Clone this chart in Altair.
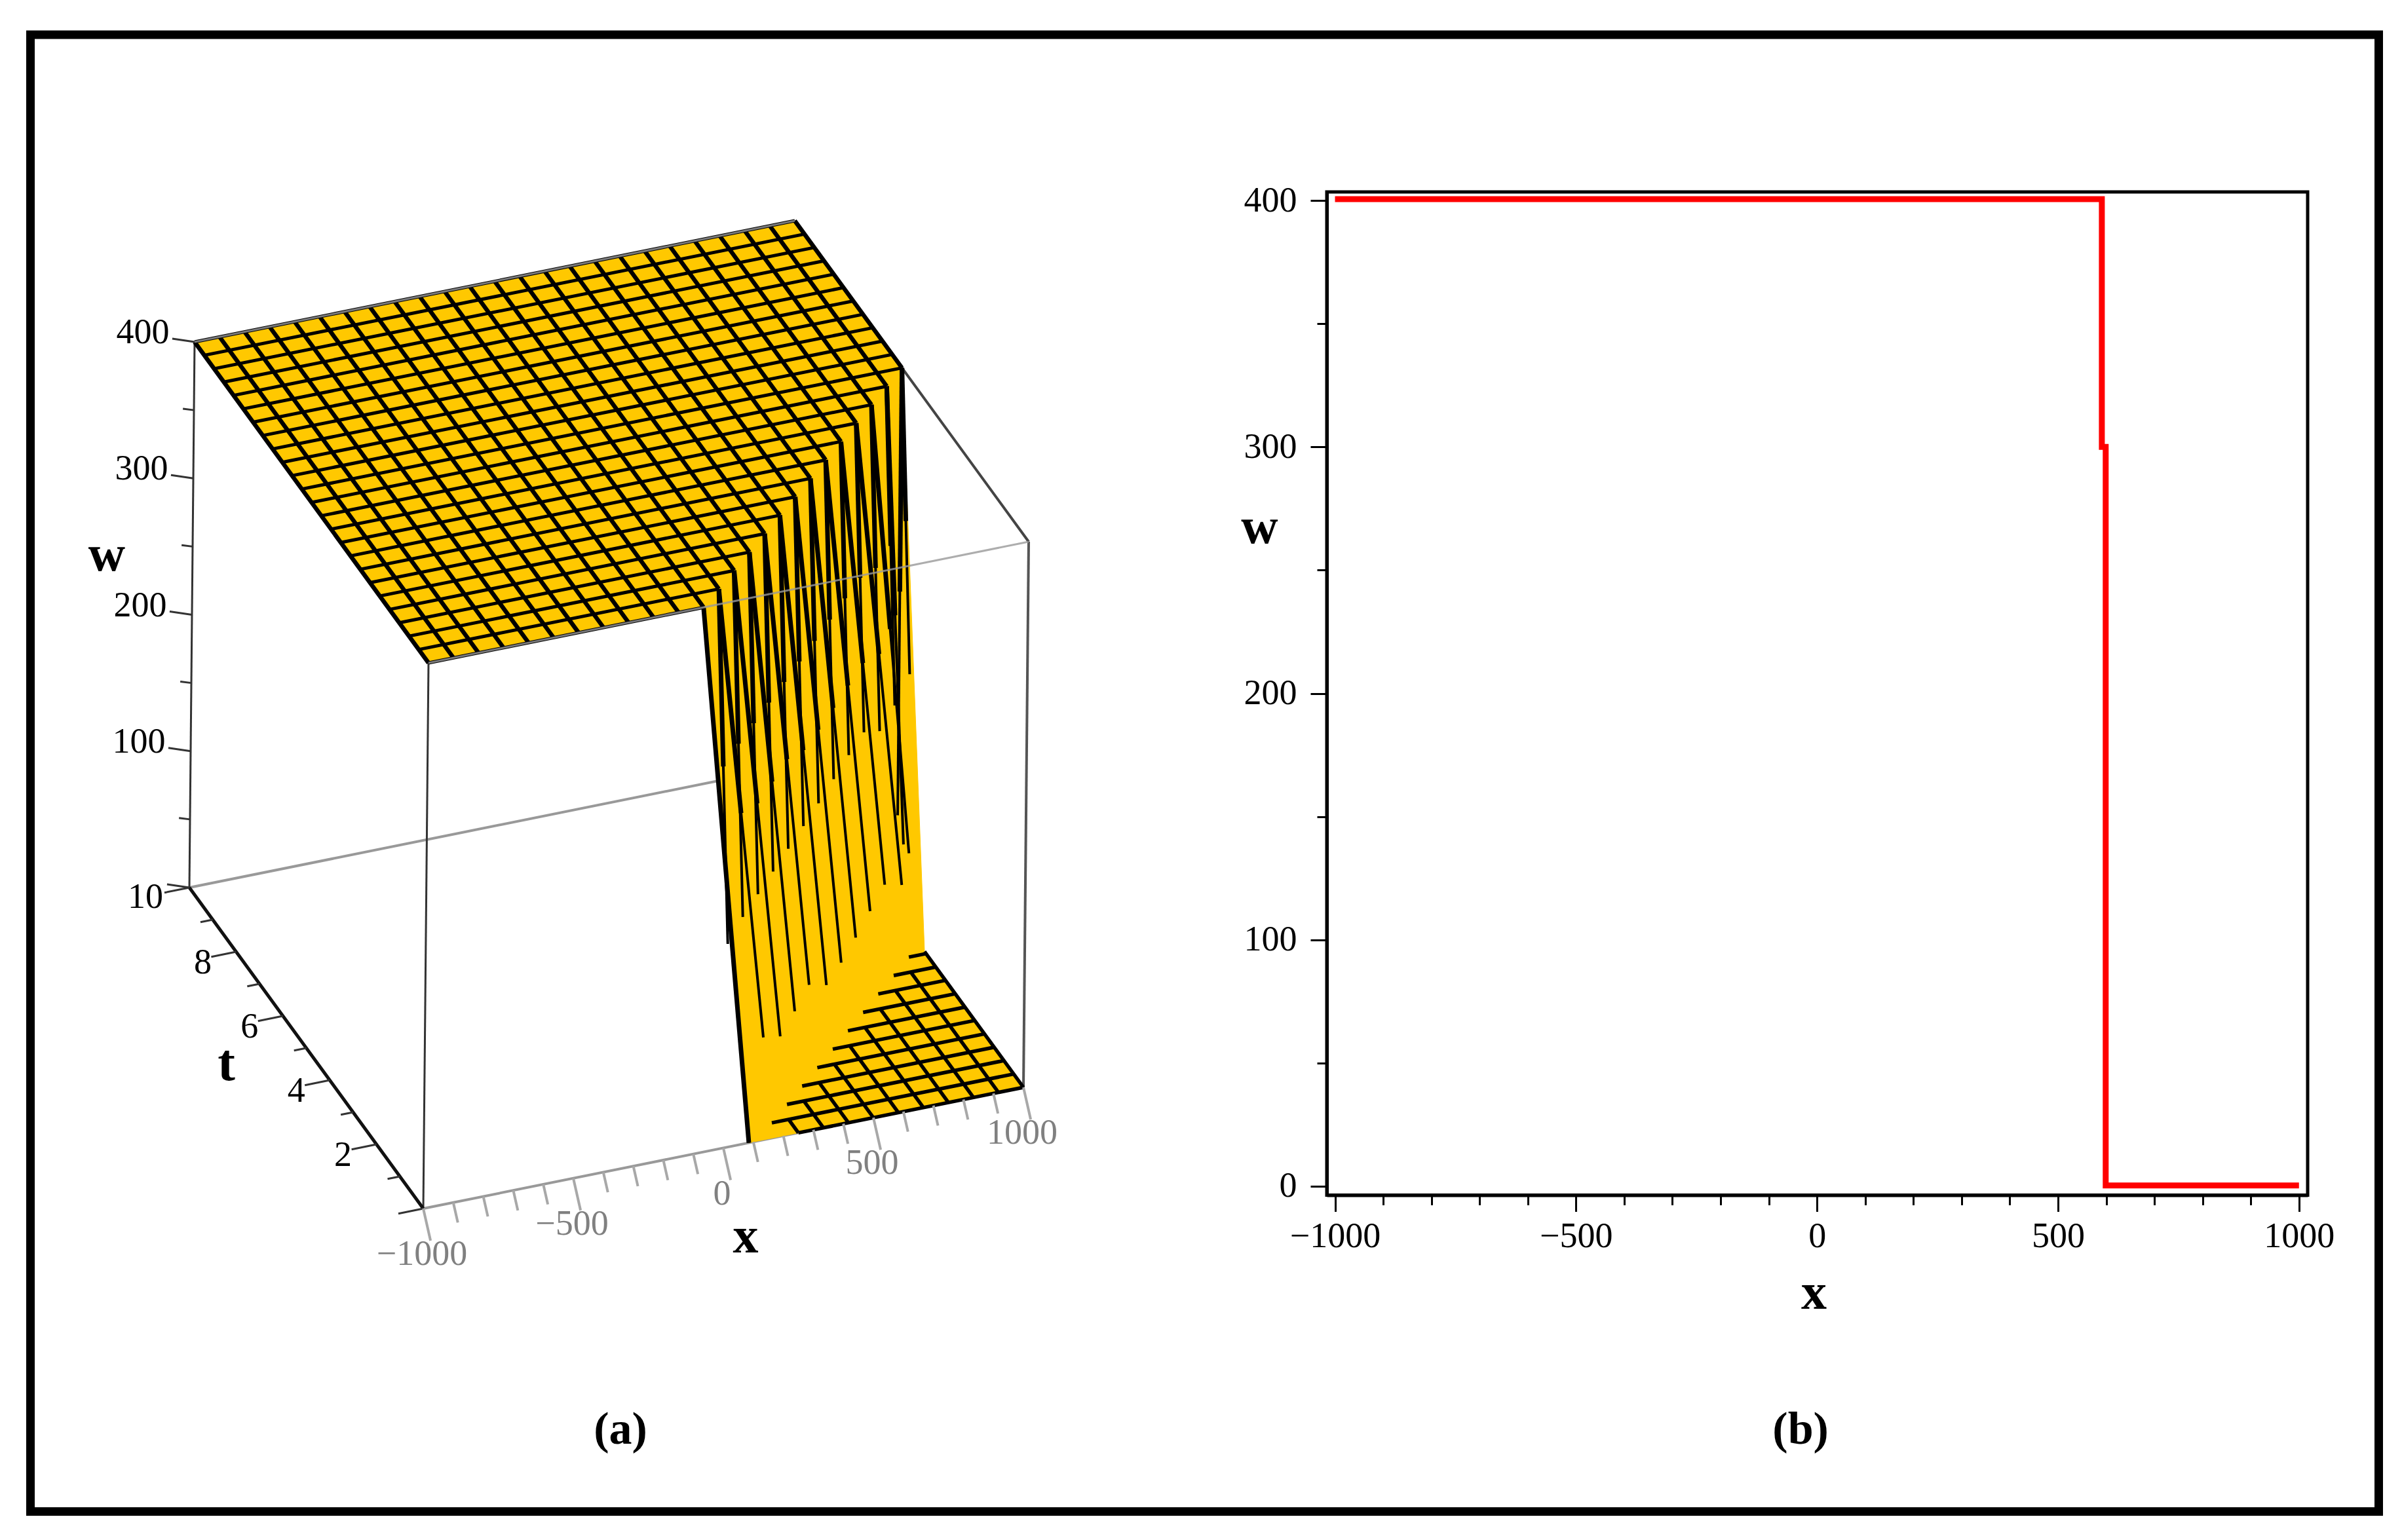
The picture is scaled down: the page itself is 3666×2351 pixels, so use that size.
import altair as alt
import pandas as pd

# ---------- panel (b) data ----------
b_x = [-1000, 591, 591, 599, 599, 1000]
b_w = [400.6, 400.6, 300, 300, 0.3, 0.3]
b_xticks = [-1000, -900, -800, -700, -600, -500, -400, -300, -200, -100, 0, 100, 200, 300, 400, 500, 600, 700, 800, 900, 1000]
b_yticks = [0, 50, 100, 150, 200, 250, 300, 350, 400]

# ---------- panel (a) data: wire grid of the surface ----------
x_grid = [-1000, -916.67, -833.33, -750, -666.67, -583.33, -500, -416.67, -333.33, -250, -166.67, -83.33,
          0, 83.33, 166.67, 250, 333.33, 416.67, 500, 583.33, 666.67, 750, 833.33, 916.67, 1000]
t_grid = [0, 0.4167, 0.8333, 1.25, 1.6667, 2.0833, 2.5, 2.9167, 3.3333, 3.75, 4.1667, 4.5833, 5,
          5.4167, 5.8333, 6.25, 6.6667, 7.0833, 7.5, 7.9167, 8.3333, 8.75, 9.1667, 9.5833, 10]
# last x of the w=400 plateau on each t wire
top_end = [-83.33, 0, 83.33, 166.67, 250, 333.33, 416.67, 500, 583.33, 666.67, 750, 833.33, 916.67, 1000,
           1000, 1000, 1000, 1000, 1000, 1000, 1000, 1000, 1000, 1000, 1000]
# first x of the w=0 floor on each t wire
low_start = [250, 194, 277, 360, 443, 527, 610, 693, 776, 860, 943]
wall_low_x = [85, 194, 277, 360, 443, 527, 610, 693, 776, 860, 943, 1000, 1000, 1000]
wall_apex_t = 4.23
wall_dt = 0.84
# w at which the dark streaks on the wall fade out (t wires, x wires), by t-wire index 1..13
streak_t_wend = [64, 51, 56, 62, 48, 51, 56, 62, 68, 54, 65, 61, 72]
streak_x_wend = [152, 158, 161, 164, 167, 170, 173, 177, 181, 184, 172, 177, 186]

w_major = [0, 100, 200, 300, 400]
w_minor = [50, 150, 250, 350]
t_major = [0, 2, 4, 6, 8, 10]
t_minor = [1, 3, 5, 7, 9]
x_major = [-1000, -500, 0, 500, 1000]
x_minor = [-900, -800, -700, -600, -400, -300, -200, -100, 100, 200, 300, 400, 600, 700, 800, 900]
frame_l, frame_r, frame_t, frame_b = 46.5, 3630.5, 53, 2307.5

YELLOW = "#FFC800"
SERIF = "Liberation Serif"
W, H = 3650, 2335


def sx(x, t, w):
    return 646 + (x + 1000) / 2000 * 916 - t / 10 * 357 + w / 400 * 8


def sy(x, t, w):
    return 1845 - (x + 1000) / 2000 * 185 - t / 10 * 490 - w / 400 * 833


X_A = dict(scale=alt.Scale(domain=[8, 8 + W], nice=False, zero=False), axis=None)
Y_A = dict(scale=alt.Scale(domain=[8 + H, 8], nice=False, zero=False), axis=None)


def path_df(paths):
    rows = []
    for pid, pts in enumerate(paths):
        for k, (x, t, w) in enumerate(pts):
            rows.append({"p": pid, "o": k, "sx": sx(x, t, w), "sy": sy(x, t, w)})
    return pd.DataFrame(rows)


def lines(paths, color, width, opacity=1.0, cap="butt"):
    return alt.Chart(path_df(paths)).mark_line(
        color=color, strokeWidth=width, opacity=opacity, strokeCap=cap, strokeJoin="miter"
    ).encode(
        x=alt.X("sx:Q", **X_A), y=alt.Y("sy:Q", **Y_A), detail="p:N", order="o:Q"
    )


def polygon(points):
    return alt.Chart(path_df([points])).mark_line(
        fill=YELLOW, stroke=YELLOW, strokeWidth=1
    ).encode(
        x=alt.X("sx:Q", **X_A), y=alt.Y("sy:Q", **Y_A), detail="p:N", order="o:Q"
    )


def labels(texts, pts, color, size, dx, dy, bold=False):
    rows = [{"txt": s, "sx": sx(*p), "sy": sy(*p)} for s, p in zip(texts, pts)]
    return alt.Chart(pd.DataFrame(rows)).mark_text(
        color=color, fontSize=size, font=SERIF, dx=dx, dy=dy, align="center", baseline="middle",
        fontWeight="bold" if bold else "normal",
    ).encode(x=alt.X("sx:Q", **X_A), y=alt.Y("sy:Q", **Y_A), text="txt:N")


def fmt(v):
    return str(v).replace("-", "\u2212")


# surface polygons
n_top = 14
top_poly = [(-1000, 0, 400), (-1000, 10, 400), (1000, 10, 400)]
for i in range(n_top - 1, -1, -1):
    top_poly.append((top_end[i], t_grid[i], 400))
    if i > 0:
        top_poly.append((top_end[i - 1], t_grid[i], 400))
wall_poly = [(top_end[0], 0, 400), (wall_low_x[0], 0, 0), (1000, 0, 0), (1000, wall_apex_t, 0),
             (1000, t_grid[13], 400), (top_end[12], t_grid[13], 400), (top_end[0], t_grid[1], 400)]

# wires on the plateau
top_rows = []
top_cols = []
for i, t in enumerate(t_grid):
    top_rows.append([(-1000, t, 400), (top_end[i], t, 400)])
for x in x_grid:
    cands = [t for i, t in enumerate(t_grid) if top_end[i] >= x - 0.01]
    if cands:
        top_cols.append([(x, min(cands), 400), (x, 10, 400)])

# wires on the floor
low_wires = []
for i, x0 in enumerate(low_start):
    low_wires.append([(x0, t_grid[i], 0), (1000, t_grid[i], 0)])
for x in x_grid:
    if x >= low_start[0] - 0.01:
        cands = [t_grid[i] for i, x0 in enumerate(low_start) if x0 <= x]
        top_t = wall_apex_t if x == 1000 else max(cands)
        low_wires.append([(x, 0, 0), (x, top_t, 0)])

# streaks down the wall
streaks = [[(top_end[0], 0, 400), (wall_low_x[0], 0, 0)]]
streaks_upper = [[(top_end[0], 0, 400), (wall_low_x[0], 0, 0)]]
for i in range(1, 14):
    xs, t = top_end[i], t_grid[i]
    we = streak_t_wend[i - 1]
    xe = xs + (wall_low_x[i] - xs) * (1 - we / 400)
    streaks.append([(xs, t, 400), (xe, t, we)])
    streaks_upper.append([(xs, t, 400), ((xs + xe) / 2, t, (400 + we) / 2)])
    we2 = streak_x_wend[i - 1]
    te = t - wall_dt * (1 - we2 / 400)
    streaks.append([(xs, t, 400), (xs, te, we2)])
    streaks_upper.append([(xs, t, 400), (xs, (t + te) / 2, (400 + we2) / 2)])

# ticks
w_ticks_maj = [[(-1000, 10, w), (-1058, 10.21, w)] for w in w_major]
w_ticks_min = [[(-1000, 10, w), (-1029, 10.1, w)] for w in w_minor]
t_ticks_maj = [[(-1000, t, 0), (-1083, t, 0)] for t in t_major]
t_ticks_min = [[(-1000, t, 0), (-1041, t, 0)] for t in t_minor]
x_ticks_maj = [[(x, 0, 0), (x, -0.32, -16)] for x in x_major]
x_ticks_min = [[(x, 0, 0), (x, -0.2, -10)] for x in x_minor]

frame = alt.Chart(pd.DataFrame({"l": [frame_l], "r": [frame_r], "t": [frame_t], "b": [frame_b]})).mark_rect(
    fillOpacity=0, stroke="black", strokeWidth=13
).encode(x=alt.X("l:Q", **X_A), x2="r:Q", y=alt.Y("t:Q", **Y_A), y2="b:Q")

panel_a = alt.layer(
    frame,
    lines([[(-1000, 10, 0), (1000, 10, 0)]], "#999999", 4),
    lines([[(-1000, 10, 0), (-1000, 10, 400)], [(-1000, 0, 0), (-1000, 0, 400)]], "#333333", 3),
    lines([[(1000, 0, 0), (1000, 0, 400)]], "#555555", 4),
    lines([[(1000, 0, 400), (1000, 10, 400)]], "#444444", 4),
    lines([[(-1000, 0, 0), (1000, 0, 0)]], "#999999", 4),
    polygon(wall_poly),
    lines(streaks, "black", 4),
    lines(streaks_upper, "black", 7),
    polygon(top_poly),
    lines(top_rows, "black", 5),
    lines(top_cols, "black", 6.5),
    lines(low_wires, "black", 5.5),
    lines([[(-1000, 0, 400), (1000, 0, 400)], [(-1000, 10, 400), (1000, 10, 400)]], "#999999", 3, 0.8),
    lines([[(-1000, 0, 0), (-1000, 10, 0)]], "#111111", 5),
    lines(w_ticks_maj + w_ticks_min + t_ticks_maj + t_ticks_min, "#333333", 3),
    lines(x_ticks_maj + x_ticks_min, "#A8A8A8", 4),
    labels([str(w) for w in [100, 200, 300, 400]], [(-1000, 10, w) for w in [100, 200, 300, 400]], "black", 54, -79, -14),
    labels(["10"], [(-1000, 10, 0)], "black", 54, -67, 15),
    labels([str(t) for t in [2, 4, 6, 8]], [(-1000, t, 0) for t in [2, 4, 6, 8]], "black", 54, -51, 17),
    labels([fmt(x) for x in x_major], [(x, 0, 0) for x in x_major], "#808080", 54, -2, 70),
    labels(["w"], [(-1000, 10, 300)], "black", 78, -132, 118, True),
    labels(["t"], [(-1000, 5, 0)], "black", 80, -122, 25, True),
    labels(["x"], [(0, 0, 0)], "black", 78, 34, 136, True),
    labels(["(a)"], [(0, 0, 0)], "black", 70, -157, 430, True),
)

# ---------- panel (b) ----------
b_left, b_right, b_top, b_bottom = 2025, 3522, 293, 1824.5
X_B = alt.Scale(domain=[-1017, 1018], range=[b_left - 8, b_right - 8], nice=False, zero=False)
Y_B = alt.Scale(domain=[-3.6, 403.5], range=[b_bottom - 8, b_top - 8], nice=False, zero=False)

x_axis = alt.Axis(
    orient="bottom", offset=-(8 + H - b_bottom), values=b_xticks, grid=False,
    tickColor="black", tickWidth=3,
    tickSize={"condition": {"test": "datum.value % 500 === 0", "value": 25}, "value": 15},
    domainColor="black", domainWidth=5,
    labelExpr="datum.value % 500 === 0 ? format(datum.value, 'd') : ''",
    labelFont=SERIF, labelFontSize=54, labelColor="black", labelPadding=38, labelOverlap=False,
    labelBaseline="middle", labelFlush=False,
    title="x", titleFont=SERIF, titleFontSize=78, titleFontWeight="bold", titleColor="black",
    titleX=2768 - 8, titleY=1974 - b_bottom, titleBaseline="middle",
)
y_axis = alt.Axis(
    orient="left", offset=-(b_left - 8), values=b_yticks, grid=False,
    tickColor="black", tickWidth=3,
    tickSize={"condition": {"test": "datum.value % 100 === 0", "value": 25}, "value": 15},
    domainColor="black", domainWidth=5,
    labelExpr="datum.value % 100 === 0 ? format(datum.value, 'd') : ''",
    labelFont=SERIF, labelFontSize=54, labelColor="black", labelPadding=21, labelOverlap=False,
    labelFlush=False,
    title="w", titleFont=SERIF, titleFontSize=78, titleFontWeight="bold", titleColor="black",
    titleAngle=0, titleX=1922 - b_left, titleY=805 - 8, titleBaseline="middle", titleAlign="center",
)

b_df = pd.DataFrame({"x": b_x, "w": b_w, "o": range(len(b_x))})
b_line = alt.Chart(b_df).mark_line(color="#FF0000", strokeWidth=9, strokeJoin="miter").encode(
    x=alt.X("x:Q", scale=X_B, axis=x_axis), y=alt.Y("w:Q", scale=Y_B, axis=y_axis), order="o:Q"
)
b_box = alt.Chart(pd.DataFrame({"x": [-1017], "b": [1018], "w": [-3.6], "d": [403.5]})).mark_rect(
    fillOpacity=0, stroke="black", strokeWidth=5
).encode(x=alt.X("x:Q", scale=X_B, axis=x_axis), x2="b:Q", y=alt.Y("w:Q", scale=Y_B, axis=y_axis), y2="d:Q")
b_cap = alt.Chart(pd.DataFrame({"x": [-34.0], "w": [-99.0], "s": ["(b)"]})).mark_text(
    font=SERIF, fontSize=70, fontWeight="bold", color="black"
).encode(x=alt.X("x:Q", scale=X_B, axis=x_axis), y=alt.Y("w:Q", scale=Y_B, axis=y_axis), text="s:N")

panel_b = alt.layer(b_box, b_line, b_cap)

chart = alt.layer(panel_a, panel_b).resolve_scale(x="independent", y="independent").properties(
    width=W, height=H, padding=0, background="white"
).configure_view(stroke=None)

chart.save("out.html", embed_options={"renderer": "svg", "actions": False})
